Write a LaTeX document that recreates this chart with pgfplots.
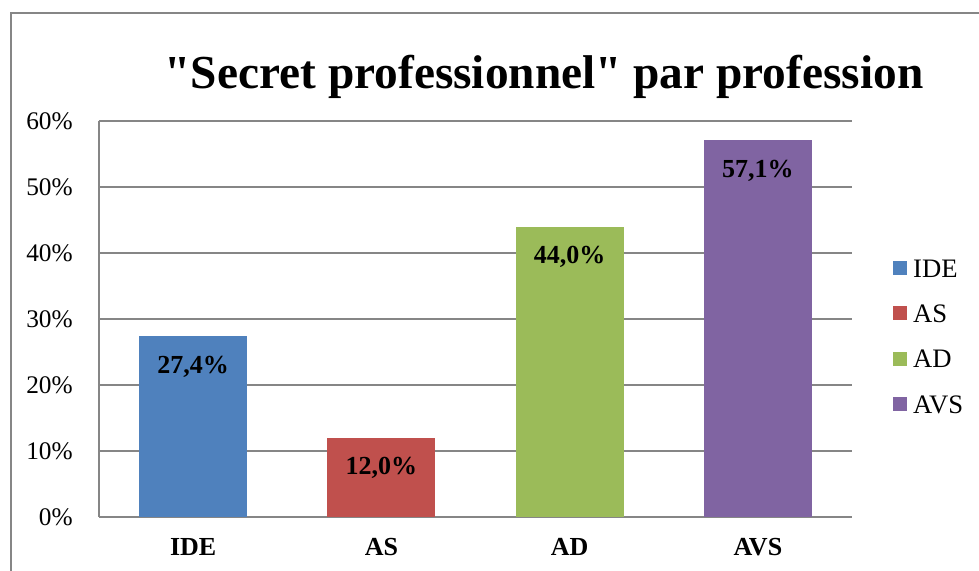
\documentclass[border=0pt]{standalone}
\usepackage{fontspec}
\setmainfont{Liberation Serif}[Ligatures=TeXOff]
\usepackage{pgfplots}
\pgfplotsset{compat=1.18}
\definecolor{cIDE}{RGB}{79,129,189}
\definecolor{cAS}{RGB}{192,80,77}
\definecolor{cAD}{RGB}{155,187,89}
\definecolor{cAVS}{RGB}{128,100,162}
\definecolor{gridgray}{RGB}{134,134,134}
\pgfplotsset{sqlegend/.style={legend image code/.code={\fill[##1,draw=none] (0pt,-5.25pt) rectangle (10.5pt,5.25pt);}}}
\begin{document}
\begin{tikzpicture}
\useasboundingbox (0pt,0pt) rectangle (734.25pt,428.25pt);
\draw[gridgray, line width=1.5pt] (7.875pt,418.5pt) rectangle (760pt,-20pt);
\begin{axis}[
  at={(74.25pt,40.5pt)}, anchor=south west,
  scale only axis,
  width=564.75pt, height=297pt,
  xmin=-0.5, xmax=3.5,
  ymin=0, ymax=60,
  ytick={0,10,20,30,40,50,60},
  yticklabel={\pgfmathprintnumber{\tick}\%},
  xtick={0,1,2,3},
  xticklabels={IDE,AS,AD,AVS},
  major tick length=0pt,
  axis lines*=left,
  axis line style={gridgray, line width=1.2pt},
  ymajorgrids,
  grid style={gridgray, line width=1.2pt},
  /pgf/number format/assume math mode=true,
  yticklabel style={anchor=base east, inner sep=0pt, xshift=-19.5pt, yshift=-6.75pt, font=\fontsize{19}{22}\selectfont},
  xticklabel style={anchor=base, inner sep=0pt, yshift=-29.25pt, font=\bfseries\fontsize{19.5}{22}\selectfont},
  title={"Secret professionnel" par profession},
  title style={at={(0.591,1.063)}, anchor=base, inner sep=0pt, font=\bfseries\fontsize{35.5}{40}\selectfont},
  ybar,
  bar width=81pt,
  nodes near coords={\pgfmathprintnumber[fixed,fixed zerofill,precision=1,use comma]{\pgfplotspointmeta}\%},
  nodes near coords style={anchor=base, inner sep=0pt, yshift=-27.75pt, font=\bfseries\fontsize{19.5}{22}\selectfont, text=black},
  legend style={at={(1.0544,0.652)}, anchor=north west, draw=none, fill=none, inner sep=0pt,
    row sep=20.5pt, column sep=4.5pt,
    nodes={inner sep=0pt, text height=13.5pt, text depth=0pt},
    font=\fontsize{20}{22}\selectfont},
  legend cell align=left,
]
\addplot[fill=cIDE, draw=none, bar shift=0pt, sqlegend] coordinates {(0,27.4)};
\addplot[fill=cAS, draw=none, bar shift=0pt, sqlegend] coordinates {(1,12.0)};
\addplot[fill=cAD, draw=none, bar shift=0pt, sqlegend] coordinates {(2,44.0)};
\addplot[fill=cAVS, draw=none, bar shift=0pt, sqlegend] coordinates {(3,57.1)};
\legend{IDE,AS,AD,AVS}
\end{axis}
\end{tikzpicture}
\end{document}
